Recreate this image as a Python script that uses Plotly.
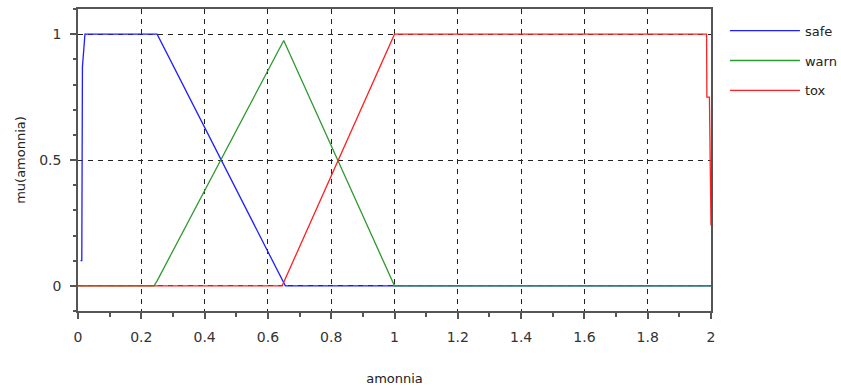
import plotly.graph_objects as go

# membership functions
safe_x = [0.008, 0.012, 0.014, 0.022, 0.25, 0.655, 1.0, 2.0]
safe_y = [0.10, 0.10, 0.87, 1.0, 1.0, 0.0, 0.0, 0.0]

warn_x = [0.0, 0.24, 0.25, 0.65, 1.0, 2.0]
warn_y = [0.0, 0.0, 0.02, 0.975, 0.0, 0.0]

tox_x = [0.0, 0.645, 1.0, 1.986, 1.987, 1.995, 2.0]
tox_y = [0.0, 0.0, 1.0, 1.0, 0.75, 0.75, 0.24]

names = ["safe", "warn", "tox"]
colors = ["#1f1fff", "#2e9a2e", "#ff2020"]

FONT = "DejaVu Sans"
TXT = "#333333"

fig = go.Figure()
for name, xs, ys, c in zip(names, [safe_x, warn_x, tox_x], [safe_y, warn_y, tox_y], colors):
    fig.add_trace(go.Scatter(x=xs, y=ys, mode="lines", name=name, legendgroup=name,
                             line=dict(color=c, width=1.3)))

fig.update_layout(
    width=841, height=392,
    margin=dict(l=78, r=130, t=9, b=81, autoexpand=False),
    plot_bgcolor="white", paper_bgcolor="white",
    font=dict(family=FONT, size=13, color=TXT),
    legend=dict(x=1.022, y=0.978, xanchor="left", yanchor="top",
                itemwidth=70, tracegroupgap=10,
                font=dict(family=FONT, size=13, color="#222222"),
                bgcolor="rgba(0,0,0,0)"),
)
fig.update_xaxes(
    range=[0, 2], tickmode="linear", tick0=0, dtick=0.2, automargin=False,
    showgrid=True, gridcolor="#222222", griddash="5px,5px", gridwidth=1,
    showline=True, linecolor="#555555", linewidth=1.5, mirror=True,
    ticks="outside", ticklen=6, tickcolor="#555555", tickwidth=1.5,
    ticklabelstandoff=6,
    minor=dict(dtick=0.1, tick0=0, ticks="outside", ticklen=4, tickcolor="#555555", showgrid=False),
    zeroline=False,
    title=dict(text="amonnia", standoff=30, font=dict(family=FONT, size=13, color="#222222")),
    tickfont=dict(family=FONT, size=14, color=TXT),
)
fig.update_yaxes(
    range=[-0.1, 1.1], tickmode="linear", tick0=0, dtick=0.5, automargin=False,
    showgrid=True, gridcolor="#222222", griddash="5px,5px", gridwidth=1,
    showline=True, linecolor="#555555", linewidth=1.5, mirror=True,
    ticks="outside", ticklen=6, tickcolor="#555555", tickwidth=1.5,
    ticklabelstandoff=6,
    minor=dict(dtick=0.1, tick0=0, ticks="outside", ticklen=3, tickcolor="#555555", showgrid=False),
    zeroline=False,
    title=dict(text="mu(amonnia)", standoff=11, font=dict(family=FONT, size=13, color="#222222")),
    tickfont=dict(family=FONT, size=14, color=TXT),
)

fig.write_html(
    "out.html",
    config={"displayModeBar": False},
    post_script="document.body.style.margin='0';document.body.style.overflow='hidden';",
)
